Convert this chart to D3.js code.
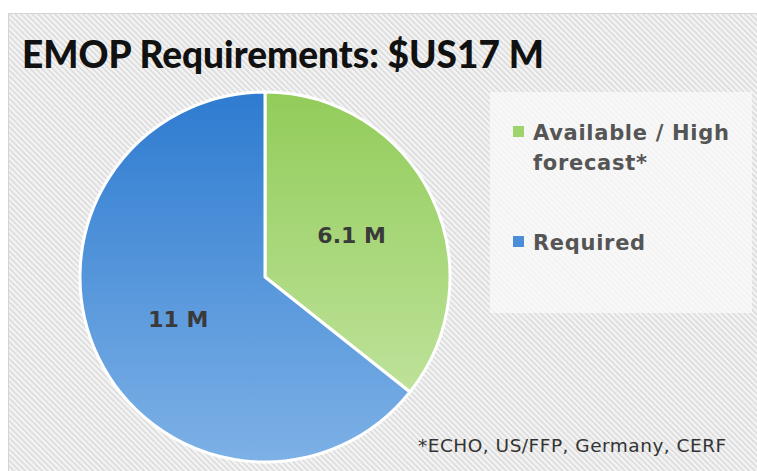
<!DOCTYPE html>
<html>
<head>
<meta charset="utf-8">
<script src="https://cdn.jsdelivr.net/npm/d3@7"></script>
<style>
  body { margin: 0; background: #fff; }
  svg { display: block; }
  text { font-family: "DejaVu Sans", sans-serif; }
</style>
</head>
<body>
<svg id="chart"></svg>
<script>
// data
const categories = ["Available / High forecast*", "Required"];
const values = [6.1, 11];
const sliceLabels = ["6.1 M", "11 M"];
const legendLines = [["Available / High", "forecast*"], ["Required"]];
const title = "EMOP Requirements: $US17 M";
const footnote = "*ECHO, US/FFP, Germany, CERF";

const W = 757, H = 471;
const cx = 265, cy = 277, r = 185;

const svg = d3.select("#chart").attr("width", W).attr("height", H);
const defs = svg.append("defs");

// hatched background
const pat = defs.append("pattern")
  .attr("id", "hatch").attr("width", 4).attr("height", 4)
  .attr("patternUnits", "userSpaceOnUse")
  .attr("patternTransform", "rotate(-45)");
pat.append("rect").attr("width", 4).attr("height", 4).attr("fill", "#f4f4f4");
pat.append("rect").attr("width", 1.6).attr("height", 4).attr("fill", "#dadada");

// vertical gradients for slices (coords relative to the pie group)
const grads = [
  { id: "gGreen", top: "#92cc5a", bottom: "#c8e7a8" },
  { id: "gBlue", top: "#2e7bd0", bottom: "#7db1e6" }
];
grads.forEach(g => {
  const lg = defs.append("linearGradient").attr("id", g.id)
    .attr("gradientUnits", "userSpaceOnUse")
    .attr("x1", 0).attr("x2", 0).attr("y1", -r).attr("y2", r);
  lg.append("stop").attr("offset", "0%").attr("stop-color", g.top);
  lg.append("stop").attr("offset", "100%").attr("stop-color", g.bottom);
});

const color = d3.scaleOrdinal().domain(categories).range(["url(#gGreen)", "url(#gBlue)"]);
const swatch = d3.scaleOrdinal().domain(categories).range(["#9fd36c", "#4a8ed8"]);

svg.append("rect").attr("x", 8).attr("y", 13).attr("width", W - 8).attr("height", H - 13)
  .attr("fill", "url(#hatch)");
svg.append("path").attr("d", `M8.5,${H}V13.5H${W}`).attr("fill", "none").attr("stroke", "#d4d4d4");

svg.append("text").attr("x", 22).attr("y", 68)
  .style("font-family", "Lato, sans-serif")
  .attr("font-size", 37).attr("font-weight", 900).attr("fill", "#111")
  .text(title);

// pie
const pie = d3.pie().sort(null).value(d => d.value);
const arc = d3.arc().innerRadius(0).outerRadius(r);
const data = categories.map((c, i) => ({ cat: c, value: values[i], label: sliceLabels[i] }));
const arcs = pie(data);

const g = svg.append("g").attr("transform", `translate(${cx},${cy})`);
g.selectAll("path").data(arcs).enter().append("path")
  .attr("d", arc)
  .attr("fill", d => color(d.data.cat))
  .attr("stroke", "#fff").attr("stroke-width", 3).attr("stroke-linejoin", "round");

const labelArc = d3.arc().innerRadius(r * 0.52).outerRadius(r * 0.52);
g.selectAll("text.lbl").data(arcs).enter().append("text")
  .attr("class", "lbl")
  .attr("transform", d => {
    const [x, y] = labelArc.centroid(d);
    return `translate(${x},${y})`;
  })
  .attr("text-anchor", "middle").attr("dy", "0.36em")
  .attr("font-size", 22).attr("font-weight", "bold").attr("fill", "#3a3a3a")
  .text(d => d.data.label);

// legend
svg.append("rect").attr("x", 490).attr("y", 92).attr("width", 262).attr("height", 221)
  .attr("fill", "#fafafa").attr("fill-opacity", 0.75);

const legendY = d3.scalePoint().domain(categories).range([140, 250]);
const lg = svg.append("g");
const item = lg.selectAll("g").data(categories).enter().append("g")
  .attr("transform", d => `translate(513,${legendY(d)})`);
item.append("rect").attr("x", 0).attr("y", -14).attr("width", 11).attr("height", 11)
  .attr("fill", d => swatch(d));
item.append("text").attr("x", 20).attr("y", 0)
  .attr("font-size", 21).attr("font-weight", "bold").attr("fill", "#555")
  .attr("letter-spacing", 0.7)
  .selectAll("tspan").data((d, i) => legendLines[i]).enter().append("tspan")
  .attr("x", 20).attr("dy", (d, i) => i === 0 ? 0 : 30)
  .text(d => d);

svg.append("text").attr("x", 418).attr("y", 452)
  .attr("font-size", 18.5).attr("fill", "#333")
  .attr("letter-spacing", 0.5)
  .text(footnote);
</script>
</body>
</html>
